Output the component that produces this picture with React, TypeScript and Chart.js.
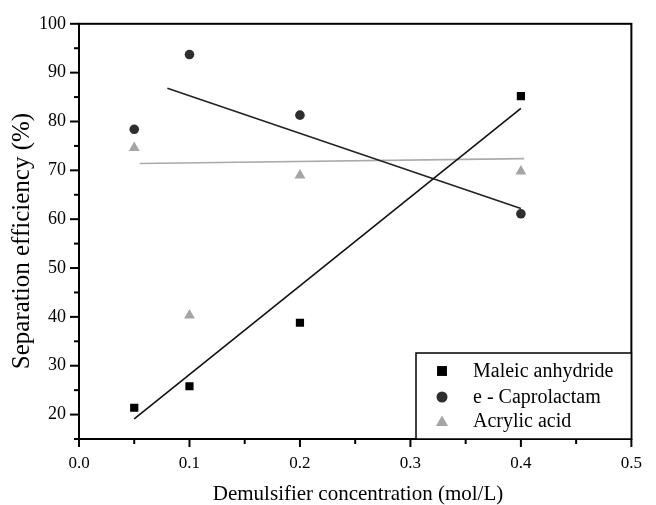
import React, { useEffect, useRef } from "react";
import { Chart, registerables } from "chart.js";

Chart.register(...registerables);

const concentrations = [0.05, 0.1, 0.2, 0.4];
const maleicAnhydride = [21.4, 25.8, 38.8, 85.2];
const caprolactam = [78.4, 93.7, 81.3, 61.1];
const acrylicAcid = [74.6, 40.3, 69.0, 69.8];

const maleicFitX = [0.05, 0.4];
const maleicFitY = [19.1, 82.7];
const caprolactamFitX = [0.08, 0.4];
const caprolactamFitY = [86.8, 62.2];
const acrylicFitX = [0.055, 0.403];
const acrylicFitY = [71.4, 72.4];

const seriesNames = ["Maleic anhydride", "e - Caprolactam", "Acrylic acid"];
const xTitle = "Demulsifier concentration (mol/L)";
const yTitle = "Separation efficiency (%)";

const SERIF = "'Liberation Serif', 'Times New Roman', serif";

const toPts = (xs: number[], ys: number[]) => xs.map((x, i) => ({ x, y: ys[i] }));

function drawMarker(ctx: CanvasRenderingContext2D, style: string, x: number, y: number, r: number, color: string) {
  ctx.save();
  ctx.fillStyle = color;
  ctx.beginPath();
  if (style === "rect") {
    const s = r * Math.SQRT1_2;
    ctx.rect(x - s, y - s, 2 * s, 2 * s);
  } else if (style === "circle") {
    ctx.arc(x, y, r, 0, Math.PI * 2);
  } else {
    ctx.moveTo(x, y - r);
    ctx.lineTo(x + r * Math.sin((2 * Math.PI) / 3), y + r * 0.5);
    ctx.lineTo(x - r * Math.sin((2 * Math.PI) / 3), y + r * 0.5);
    ctx.closePath();
  }
  ctx.fill();
  ctx.restore();
}

const framePlugin = {
  id: "framePlugin",
  afterDraw(chart: any) {
    const ctx: CanvasRenderingContext2D = chart.ctx;
    const { left, right, top, bottom } = chart.chartArea;
    const xs = chart.scales.x;
    const ys = chart.scales.y;
    ctx.save();
    ctx.strokeStyle = "#000";
    ctx.lineWidth = 2;
    ctx.strokeRect(left, top, right - left, bottom - top);
    ctx.lineWidth = 2;
    xs.ticks.forEach((t: any) => {
      const px = xs.getPixelForValue(t.value);
      const major = Math.round(t.value * 100) % 10 === 0;
      ctx.beginPath();
      ctx.moveTo(px, bottom);
      ctx.lineTo(px, bottom + (major ? 8 : 5));
      ctx.stroke();
    });
    ys.ticks.forEach((t: any) => {
      const py = ys.getPixelForValue(t.value);
      const major = Math.round(t.value) % 10 === 0;
      ctx.beginPath();
      ctx.moveTo(left, py);
      ctx.lineTo(left - (major ? 9 : 5), py);
      ctx.stroke();
    });

    // axis titles
    ctx.fillStyle = "#000";
    ctx.textAlign = "center";
    ctx.textBaseline = "middle";
    ctx.font = `21px ${SERIF}`;
    ctx.fillText(xTitle, 358, 494);
    ctx.save();
    ctx.translate(22, 241);
    ctx.rotate(-Math.PI / 2);
    ctx.font = `25px ${SERIF}`;
    ctx.fillText(yTitle, 0, 0);
    ctx.restore();

    // legend
    const lx = 416;
    const ly = 353;
    ctx.fillStyle = "#fff";
    ctx.fillRect(lx, ly, right - lx, bottom - ly);
    ctx.lineWidth = 1.5;
    ctx.strokeStyle = "#000";
    ctx.strokeRect(lx, ly, right - lx, bottom - ly);
    const styles = ["rect", "circle", "triangle"];
    const colors = ["#000000", "#2e2e2e", "#a5a5a5"];
    const radii = [7, 5.5, 7];
    const rows = [371, 397, 421];
    ctx.font = `20px ${SERIF}`;
    ctx.textAlign = "left";
    ctx.textBaseline = "middle";
    seriesNames.forEach((name, i) => {
      drawMarker(ctx, styles[i], 442, rows[i] + (styles[i] === "triangle" ? 1.5 : 0), radii[i], colors[i]);
      ctx.fillStyle = "#000";
      ctx.fillText(name, 473, rows[i] + 1);
    });
    ctx.restore();
  },
};

export default function App() {
  const ref = useRef<HTMLCanvasElement | null>(null);
  useEffect(() => {
    if (!ref.current) return;
    const chart = new Chart(ref.current, {
      type: "scatter",
      data: {
        datasets: [
          {
            type: "line",
            label: "Maleic fit",
            data: toPts(maleicFitX, maleicFitY),
            borderColor: "#111",
            borderWidth: 1.6,
            pointRadius: 0,
            showLine: true,
            fill: false,
          } as any,
          {
            type: "line",
            label: "Caprolactam fit",
            data: toPts(caprolactamFitX, caprolactamFitY),
            borderColor: "#222",
            borderWidth: 1.6,
            pointRadius: 0,
            showLine: true,
            fill: false,
          } as any,
          {
            type: "line",
            label: "Acrylic fit",
            data: toPts(acrylicFitX, acrylicFitY),
            borderColor: "#ababab",
            borderWidth: 1.6,
            pointRadius: 0,
            showLine: true,
            fill: false,
          } as any,
          {
            label: seriesNames[0],
            data: toPts(concentrations, maleicAnhydride),
            pointStyle: "rect",
            pointRadius: 5.8,
            backgroundColor: "#000",
            borderWidth: 0,
          },
          {
            label: seriesNames[1],
            data: toPts(concentrations, caprolactam),
            pointStyle: "circle",
            pointRadius: 4.8,
            backgroundColor: "#2e2e2e",
            borderWidth: 0,
          },
          {
            label: seriesNames[2],
            data: toPts(concentrations, acrylicAcid),
            pointStyle: "triangle",
            pointRadius: 6.3,
            backgroundColor: "#a5a5a5",
            borderWidth: 0,
          },
        ],
      },
      options: {
        responsive: false,
        animation: false,
        layout: { padding: { top: 19, right: 24, left: 0, bottom: 0 } },
        plugins: { legend: { display: false }, tooltip: { enabled: false } },
        scales: {
          x: {
            type: "linear",
            min: 0,
            max: 0.5,
            afterFit: (s: any) => {
              s.height = 66;
            },
            grid: { display: false, drawTicks: false },
            border: { display: false },
            ticks: {
              stepSize: 0.05,
              autoSkip: false,
              maxRotation: 0,
              padding: 14,
              color: "#000",
              font: { family: SERIF, size: 17 },
              callback: (v: any) => (Math.round(Number(v) * 100) % 10 === 0 ? Number(v).toFixed(1) : ""),
            },
          },
          y: {
            type: "linear",
            min: 15,
            max: 100,
            afterFit: (s: any) => {
              s.width = 79;
            },
            grid: { display: false, drawTicks: false },
            border: { display: false },
            ticks: {
              stepSize: 5,
              autoSkip: false,
              padding: 13,
              color: "#000",
              font: { family: SERIF, size: 18 },
              callback: (v: any) => (Math.round(Number(v)) % 10 === 0 ? String(v) : ""),
            },
          },
        },
      },
      plugins: [framePlugin],
    });
    return () => chart.destroy();
  }, []);
  return (
    <div style={{ position: "fixed", left: 0, top: 0, width: 656, height: 505, background: "#fff" }}>
      <canvas ref={ref} width={656} height={505} style={{ display: "block" }} />
    </div>
  );
}
